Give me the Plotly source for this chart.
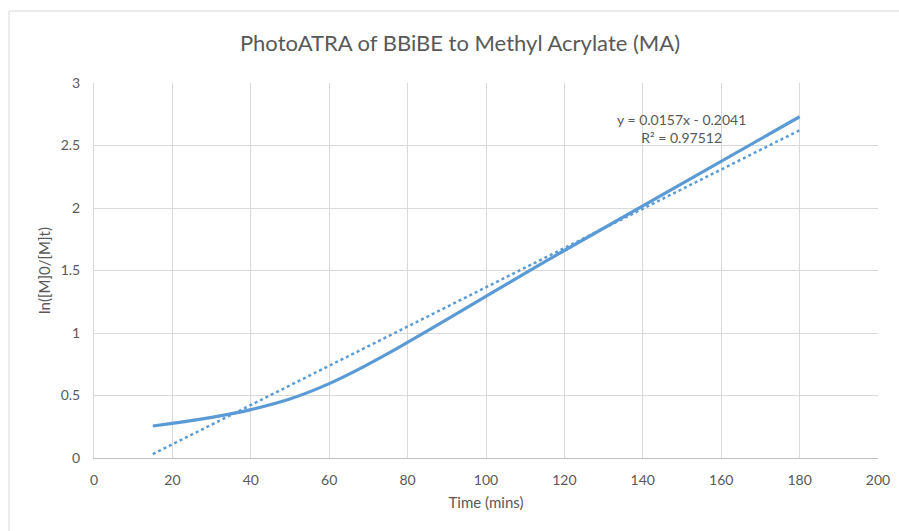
import plotly.graph_objects as go

# data
time_mins = [15, 40, 60, 120, 180]
ln_ratio = [0.256, 0.387, 0.595, 1.66, 2.73]

# trendline (from Excel label)
trend_slope = 0.0157
trend_intercept = -0.2041
trend_x = [time_mins[0], time_mins[-1]]
trend_y = [trend_slope * x + trend_intercept for x in trend_x]

x_ticks = [0, 20, 40, 60, 80, 100, 120, 140, 160, 180, 200]
y_ticks = [0, 0.5, 1, 1.5, 2, 2.5, 3]
y_tick_text = ["0", "0.5", "1", "1.5", "2", "2.5", "3"]

blue = "#5B9BD5"
font_family = "Lato, 'Open Sans', sans-serif"

fig = go.Figure()
fig.add_trace(go.Scatter(
    x=time_mins, y=ln_ratio, mode="lines",
    line=dict(color=blue, width=3.2, shape="spline", smoothing=1),
    showlegend=False, hoverinfo="skip",
))
fig.add_trace(go.Scatter(
    x=trend_x, y=trend_y, mode="lines",
    line=dict(color=blue, width=2.5, dash="dot"),
    showlegend=False, hoverinfo="skip",
))

L, R, T, B = 94, 21, 83, 73
W, H = 899, 531
pw = W - L - R
ph = H - T - B

fig.update_layout(
    width=W, height=H,
    margin=dict(l=L, r=R, t=T, b=B, pad=0, autoexpand=False),
    paper_bgcolor="white", plot_bgcolor="white",
    font=dict(family=font_family, color="#595959", size=14),
    title=dict(text="PhotoATRA of BBiBE to Methyl Acrylate (MA)",
               x=460 / W, xanchor="center", y=1 - 43 / H, yanchor="middle",
               font=dict(size=22, color="#595959", family=font_family)),
    xaxis=dict(range=[0, 200], tickvals=x_ticks, showgrid=True, gridcolor="#D9D9D9",
               gridwidth=1, zeroline=False, showline=True, linecolor="#BFBFBF", linewidth=1,
               ticks="", ticklen=0, ticklabelstandoff=9, automargin=False,
               tickfont=dict(size=14, color="#595959"),
               title=dict(text="Time (mins)", font=dict(size=15, color="#595959"), standoff=10),
               mirror=False),
    yaxis=dict(range=[0, 3], tickvals=y_ticks, ticktext=y_tick_text, showgrid=True,
               gridcolor="#D9D9D9", gridwidth=1, zeroline=False, showline=True,
               linecolor="#D9D9D9", linewidth=1, ticks="", ticklabelstandoff=10,
               automargin=False,
               tickfont=dict(size=14, color="#595959"),
               title=dict(text="ln([M]0/[M]t)", font=dict(size=15, color="#595959"), standoff=6)),
)

# outer chart border
fig.add_shape(type="rect", xref="paper", yref="paper",
              x0=(9 - L) / pw, x1=(W + 20 - L) / pw,
              y0=-(H + 20 - T - ph) / ph, y1=1 + (T - 11) / ph,
              line=dict(color="#D9D9D9", width=1), fillcolor="rgba(0,0,0,0)", layer="below")

fig.add_annotation(x=(681 - L) / pw, y=1 - (128 - T) / ph, xref="paper", yref="paper",
                   xanchor="center", yanchor="middle",
                   text="y = 0.0157x - 0.2041<br>R² = 0.97512", showarrow=False,
                   font=dict(size=14, color="#595959"), align="center")

fig.write_html("out.html")
